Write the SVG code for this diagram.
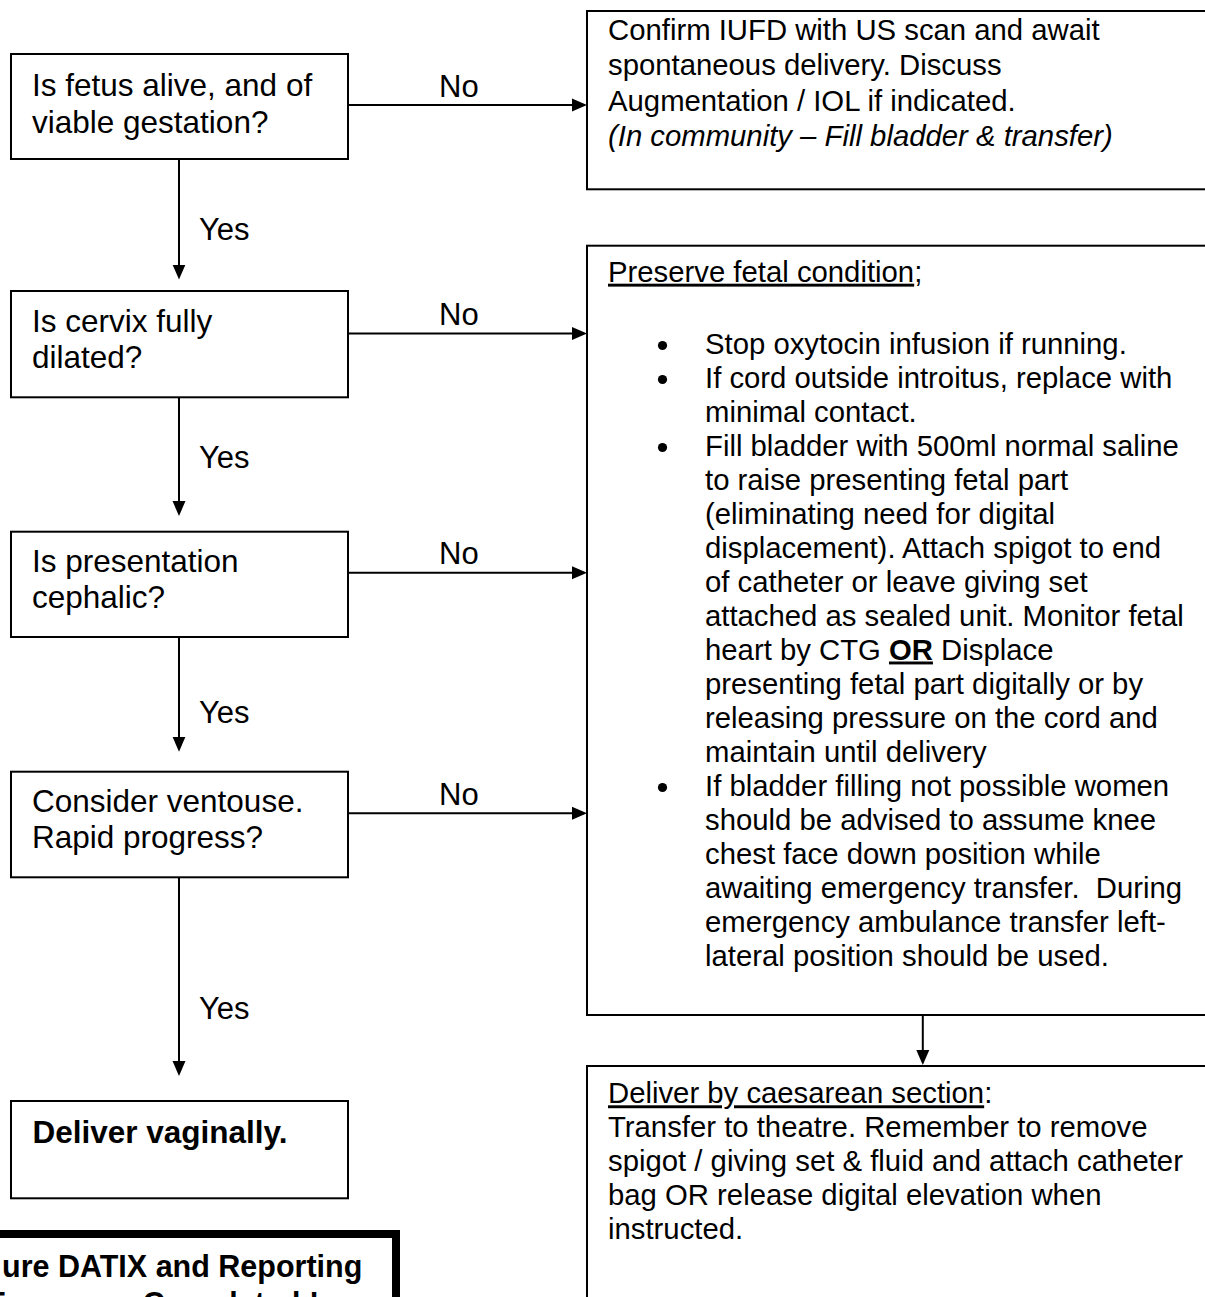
<svg xmlns="http://www.w3.org/2000/svg" width="1205" height="1297" viewBox="0 0 1205 1297">
<style>
  text { font-family: "Liberation Sans", Arial, sans-serif; fill: #000; }
  .q { font-size: 31.5px; }
  .lbl { font-size: 31px; }
  .r { font-size: 29.3px; }
  .b { font-weight: bold; }
  .box { fill: #fff; stroke: #000; stroke-width: 2; }
  .thick { fill: #fff; stroke: #000; stroke-width: 8; }
  .con { fill: none; stroke: #000; stroke-width: 2; }
  .u { text-decoration: underline; }
  .pre { white-space: pre; }
</style>
<defs>
  <marker id="ah" markerUnits="userSpaceOnUse" markerWidth="15" markerHeight="14" refX="12" refY="7" orient="auto">
    <path d="M0,0.5 L15,7 L0,13.5 z" fill="#000"/>
  </marker>
</defs>
<rect width="1205" height="1297" fill="#fff"/>

<g id="connectors">
  <path class="con" d="M179,159 V276.5" marker-end="url(#ah)"/>
  <path class="con" d="M179,397.3 V513" marker-end="url(#ah)"/>
  <path class="con" d="M179,637 V748.7" marker-end="url(#ah)"/>
  <path class="con" d="M179,877.3 V1073" marker-end="url(#ah)"/>
  <path class="con" d="M348,105 H584" marker-end="url(#ah)"/>
  <path class="con" d="M348,333.5 H584" marker-end="url(#ah)"/>
  <path class="con" d="M348,572.7 H584" marker-end="url(#ah)"/>
  <path class="con" d="M348,813.3 H584" marker-end="url(#ah)"/>
  <path class="con" d="M922.8,1015 V1062" marker-end="url(#ah)"/>
  <text class="lbl" x="199" y="240">Yes</text>
  <text class="lbl" x="199" y="468.3">Yes</text>
  <text class="lbl" x="199" y="723.3">Yes</text>
  <text class="lbl" x="199" y="1019">Yes</text>
  <text class="lbl" x="439" y="97">No</text>
  <text class="lbl" x="439" y="325">No</text>
  <text class="lbl" x="439" y="563.5">No</text>
  <text class="lbl" x="439" y="804.5">No</text>
</g>

<g id="q-alive">
  <rect class="box" x="11" y="54" width="337" height="105"/>
  <text class="q" x="32" y="95.7">Is fetus alive, and of</text>
  <text class="q" x="32" y="132.5">viable gestation?</text>
</g>

<g id="q-cervix">
  <rect class="box" x="11" y="291" width="337" height="106.3"/>
  <text class="q" x="32" y="331.7">Is cervix fully</text>
  <text class="q" x="32" y="368.3">dilated?</text>
</g>

<g id="q-presentation">
  <rect class="box" x="11" y="531.7" width="337" height="105.3"/>
  <text class="q" x="32" y="571.7">Is presentation</text>
  <text class="q" x="32" y="608.3">cephalic?</text>
</g>

<g id="q-ventouse">
  <rect class="box" x="11" y="771.7" width="337" height="105.6"/>
  <text class="q" x="32" y="811.7">Consider ventouse.</text>
  <text class="q" x="32" y="848.3">Rapid progress?</text>
</g>

<g id="deliver-vaginally">
  <rect class="box" x="11" y="1101" width="337" height="97.3"/>
  <text class="q b" x="32.5" y="1142.7">Deliver vaginally.</text>
</g>

<g id="datix">
  <rect class="thick" x="-90" y="1234" width="486" height="120"/>
  <text class="q b" x="2" y="1276.7" style="font-size:30.5px">ure DATIX and Reporting</text>
  <text class="q b" x="153" y="1313.5" text-anchor="middle" style="font-size:30.5px">Forms are Completed !</text>
</g>

<g id="iufd">
  <rect class="box" x="587" y="11" width="630" height="178.3"/>
  <text class="r" x="608" y="39.5">Confirm IUFD with US scan and await</text>
  <text class="r" x="608" y="75">spontaneous delivery. Discuss</text>
  <text class="r" x="608" y="110.5">Augmentation / IOL if indicated.</text>
  <text class="r" x="608" y="146" font-style="italic">(In community – Fill bladder &amp; transfer)</text>
</g>

<g id="preserve">
  <rect class="box" x="587" y="245.7" width="630" height="769.3"/>
  <text class="r" x="608" y="281.7"><tspan class="u">Preserve fetal condition</tspan>;</text>
  <circle cx="662.5" cy="345.5" r="4.6"/>
  <circle cx="662.5" cy="379.5" r="4.6"/>
  <circle cx="662.5" cy="447.5" r="4.6"/>
  <circle cx="662.5" cy="787.5" r="4.6"/>
  <text class="r" x="705" y="353.5">Stop oxytocin infusion if running.</text>
  <text class="r" x="705" y="387.5">If cord outside introitus, replace with</text>
  <text class="r" x="705" y="421.5">minimal contact.</text>
  <text class="r" x="705" y="455.5">Fill bladder with 500ml normal saline</text>
  <text class="r" x="705" y="489.5">to raise presenting fetal part</text>
  <text class="r" x="705" y="523.5">(eliminating need for digital</text>
  <text class="r" x="705" y="557.5">displacement). Attach spigot to end</text>
  <text class="r" x="705" y="591.5">of catheter or leave giving set</text>
  <text class="r" x="705" y="625.5">attached as sealed unit. Monitor fetal</text>
  <text class="r" x="705" y="659.5">heart by CTG <tspan class="b u">OR</tspan> Displace</text>
  <text class="r" x="705" y="693.5">presenting fetal part digitally or by</text>
  <text class="r" x="705" y="727.5">releasing pressure on the cord and</text>
  <text class="r" x="705" y="761.5">maintain until delivery</text>
  <text class="r" x="705" y="795.5">If bladder filling not possible women</text>
  <text class="r" x="705" y="829.5">should be advised to assume knee</text>
  <text class="r" x="705" y="863.5">chest face down position while</text>
  <text class="r pre" x="705" y="897.5">awaiting emergency transfer.  During</text>
  <text class="r" x="705" y="931.5">emergency ambulance transfer left-</text>
  <text class="r" x="705" y="965.5">lateral position should be used.</text>
</g>

<g id="caesarean">
  <rect class="box" x="587" y="1066" width="630" height="300"/>
  <text class="r" x="608" y="1103.3"><tspan class="u">Deliver by caesarean section</tspan>:</text>
  <text class="r" x="608" y="1137">Transfer to theatre. Remember to remove</text>
  <text class="r" x="608" y="1171">spigot / giving set &amp; fluid and attach catheter</text>
  <text class="r" x="608" y="1205">bag OR release digital elevation when</text>
  <text class="r" x="608" y="1239">instructed.</text>
</g>
</svg>
